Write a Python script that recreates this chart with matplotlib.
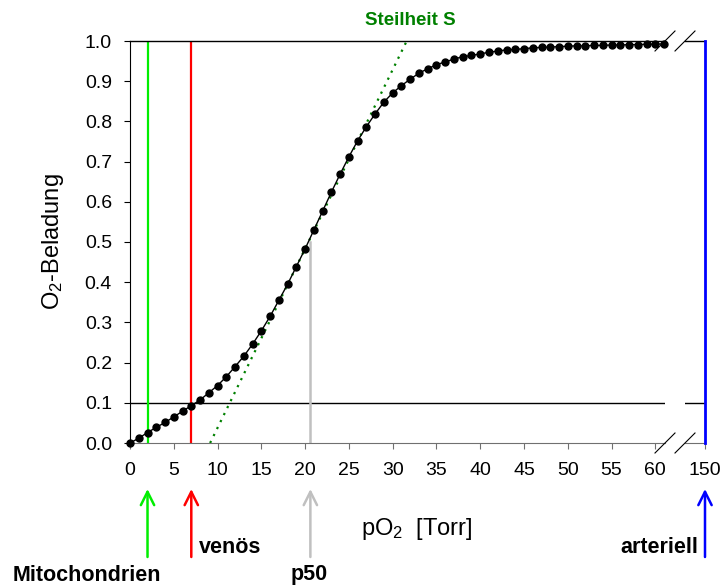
import numpy as np
import matplotlib
matplotlib.use('Agg')
import matplotlib.pyplot as plt

plt.rcParams['font.family'] = 'Liberation Sans'
plt.rcParams['mathtext.fontset'] = 'custom'
plt.rcParams['mathtext.rm'] = 'Liberation Sans'
plt.rcParams['mathtext.it'] = 'Liberation Sans:italic'
plt.rcParams['mathtext.bf'] = 'Liberation Sans:bold'

# --- data ---
po2 = list(range(62))  # Torr, one point per Torr
saturation = [0.000, 0.012, 0.026, 0.039, 0.051, 0.065, 0.079, 0.093, 0.107, 0.125,
              0.143, 0.165, 0.190, 0.216, 0.246, 0.279, 0.315, 0.355, 0.395, 0.439,
              0.483, 0.530, 0.577, 0.624, 0.669, 0.712, 0.752, 0.787, 0.819, 0.848,
              0.871, 0.889, 0.905, 0.920, 0.931, 0.941, 0.948, 0.955, 0.961, 0.964,
              0.968, 0.972, 0.975, 0.978, 0.979, 0.981, 0.983, 0.984, 0.985, 0.986,
              0.987, 0.988, 0.988, 0.989, 0.989, 0.990, 0.990, 0.991, 0.991, 0.992,
              0.992, 0.993]

# tangent at p50 (Steilheit S)
tangent_x = [9.15, 31.6]
tangent_y = [0.0, 1.0]

p_mito = 2
p_venoes = 7
p50 = 20.6
p50_sat = 0.5
p_arteriell = 150

x_ticks = [0, 5, 10, 15, 20, 25, 30, 35, 40, 45, 50, 55, 60]
y_ticks = [0.0, 0.1, 0.2, 0.3, 0.4, 0.5, 0.6, 0.7, 0.8, 0.9, 1.0]

# colours
c_mito = '#00ee00'
c_ven = '#ff0000'
c_p50 = '#c0c0c0'
c_art = '#0000ff'
c_slope = '#008000'
c_axis = '#707070'

W, H = 724, 585
fig = plt.figure(figsize=(W / 100, H / 100), dpi=100)

# broken x axis: 0..61 and a short piece ending at 150
ax1 = fig.add_axes([130 / W, 1 - 443 / H, 535 / W, 402 / H])
ax2 = fig.add_axes([685 / W, 1 - 443 / H, 20 / W, 402 / H], sharey=ax1)

ax1.set_xlim(0, 61.1)
ax2.set_xlim(147.72, 150)
ax1.set_ylim(0, 1)

# vertical marker lines
ax1.plot([p_mito, p_mito], [0, 1], color=c_mito, lw=1.6, zorder=2)
ax1.plot([p_venoes, p_venoes], [0, 1], color=c_ven, lw=1.6, zorder=2)
ax1.plot([p50, p50], [0, p50_sat], color=c_p50, lw=1.8, zorder=2)
ax2.plot([p_arteriell, p_arteriell], [0, 1], color=c_art, lw=2, zorder=3, clip_on=False)

# 10 % line
for ax in (ax1, ax2):
    ax.axhline(0.1, color='black', lw=1.0, zorder=1)

# tangent
ax1.plot(tangent_x, tangent_y, color=c_slope, lw=1.6, linestyle=(0, (1, 2.5)), zorder=3)

# binding curve
ax1.plot(po2, saturation, color='black', lw=1.0, marker='o', markersize=5,
         zorder=4, clip_on=False)

# spines and ticks
ax1.spines['right'].set_visible(False)
ax2.spines['left'].set_visible(False)
ax2.spines['right'].set_visible(False)
for ax in (ax1, ax2):
    ax.spines['bottom'].set_color(c_axis)
    ax.spines['top'].set_linewidth(1.0)

ax1.set_xticks(x_ticks)
ax2.set_xticks([p_arteriell])
ax1.set_yticks(y_ticks)
ax1.set_yticklabels([f'{v:.1f}' for v in y_ticks])
ax1.tick_params(axis='y', direction='out', length=4, width=0.8, pad=9, labelsize=14)
for ax in (ax1, ax2):
    ax.tick_params(axis='x', direction='out', length=4.5, width=0.8, color=c_axis,
                   pad=9, labelsize=14)
ax2.tick_params(axis='y', left=False, labelleft=False)

# break marks
dy = 10 / 402
for yy in (0, 1):
    ax1.plot([1 - 10 / 535, 1 + 10 / 535], [yy - dy, yy + dy], transform=ax1.transAxes,
             color='black', lw=0.8, clip_on=False, zorder=5)
    ax2.plot([-0.5, 0.5], [yy - dy, yy + dy], transform=ax2.transAxes,
             color='black', lw=0.8, clip_on=False, zorder=5)

# axis labels
fig.text(417 / W, 1 - 535 / H, 'pO$_2$  [Torr]', ha='center', va='baseline', fontsize=17)
fig.text(53 / W, 1 - 242 / H, 'O$_2$-Beladung', ha='center', va='center',
         rotation=90, fontsize=17)
fig.text(410 / W, 1 - 25 / H, 'Steilheit S', ha='center', va='baseline',
         fontsize=13.5, fontweight='bold', color=c_slope)

# arrows below the axis
tip_y = 1 - 489 / H
tail_y = 1 - 557 / H
arrow_specs = [(ax1, p_mito, c_mito), (ax1, p_venoes, c_ven), (ax1, p50, c_p50),
               (ax2, p_arteriell, c_art)]
for ax, xv, col in arrow_specs:
    ax.annotate('', xy=(xv, tip_y), xytext=(xv, tail_y),
                xycoords=('data', 'figure fraction'),
                textcoords=('data', 'figure fraction'),
                arrowprops=dict(arrowstyle='->', color=col, lw=1.8,
                                shrinkA=0, shrinkB=0, mutation_scale=24),
                annotation_clip=False)

fig.text(13 / W, 1 - 581 / H, 'Mitochondrien', ha='left', va='baseline',
         fontsize=15.5, fontweight='bold')
fig.text(199 / W, 1 - 553 / H, 'venös', ha='left', va='baseline',
         fontsize=15.5, fontweight='bold')
fig.text(291 / W, 1 - 580 / H, 'p50', ha='left', va='baseline',
         fontsize=15.5, fontweight='bold')
fig.text(698 / W, 1 - 553 / H, 'arteriell', ha='right', va='baseline',
         fontsize=15.5, fontweight='bold')

fig.savefig('out.png', dpi=100)
